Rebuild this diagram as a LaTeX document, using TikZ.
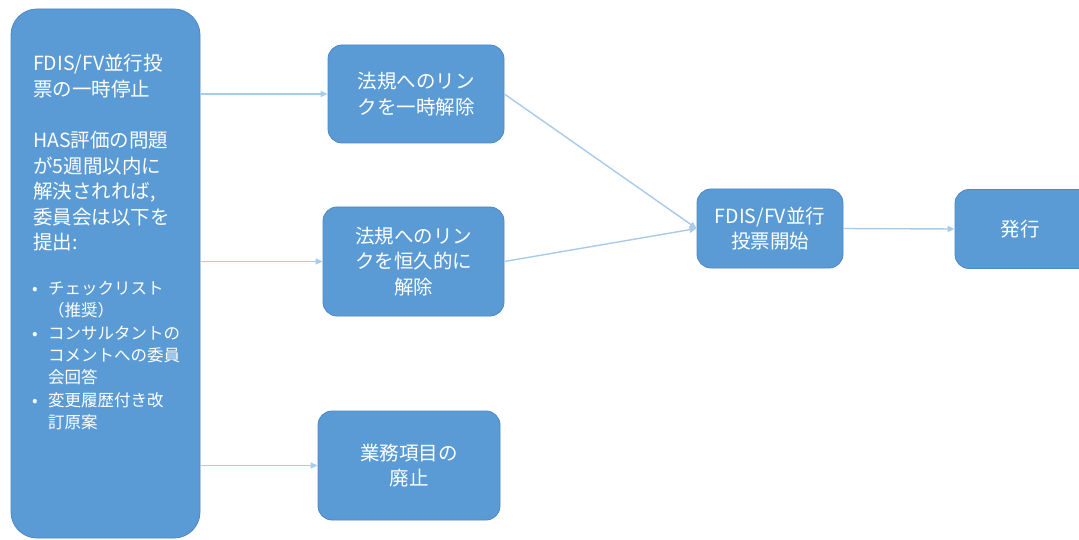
\documentclass[tikz,border=0pt]{standalone}
\usepackage{fontspec}
\setmainfont{Noto Sans CJK JP}
\usetikzlibrary{arrows.meta}
\definecolor{boxblue}{HTML}{5B9BD5}
\definecolor{boxedge}{HTML}{4D88C4}
\definecolor{arrowblue}{HTML}{A9CBEA}
\begin{document}
\begin{tikzpicture}[x=1pt,y=-1pt,
  box/.style={draw=boxedge, line width=0.8pt, fill=boxblue, rounded corners=14pt,
    text=white, align=center, font=\fontsize{19.5}{25.5}\selectfont, inner sep=0pt},
  boxtext/.style={text=white, align=left, inner sep=0pt, anchor=north west},
  arr/.style={draw=arrowblue, line width=1.4pt, -{Triangle[length=7pt,width=6pt]}}]
\clip (0,0) rectangle (1079,540);
\fill[white] (0,0) rectangle (1079,540);
% boxes
\node[box, rounded corners=26pt, minimum width=189pt, minimum height=529pt] (L) at (105.5,273.5) {};
\node[box, minimum width=176pt, minimum height=98pt] (A) at (416,94) {法規へのリン\\クを一時解除};
\node[box, minimum width=181pt, minimum height=109pt] (B) at (413.5,261.5) {法規へのリン\\クを恒久的に\\解除};
\node[box, minimum width=182pt, minimum height=109pt] (C) at (409,465.5) {業務項目の\\廃止};
\node[box, minimum width=146pt, minimum height=79pt] (D) at (770,228.5) {FDIS/FV並行\\投票開始};
\node[box, minimum width=150pt, minimum height=79pt, text width=124pt] (E) at (1030,229) {\hspace*{-20pt}発行};
% left box text
\node[boxtext, font=\fontsize{19.5}{25.5}\selectfont] (Lt) at (33,54)
  {FDIS/FV並行投\\票の一時停止\\[26pt]HAS評価の問題\\が5週間以内に\\解決されれば,\\委員会は以下を\\提出:};
\node[boxtext, font=\fontsize{16.5}{22.3}\selectfont] (Lb) at (32,281)
  {\makebox[16pt][l]{•}チェックリスト\\\hspace*{16pt}（推奨）\\
   \makebox[16pt][l]{•}コンサルタントの\\\hspace*{16pt}コメントへの委員\\\hspace*{16pt}会回答\\
   \makebox[16pt][l]{•}変更履歴付き改\\\hspace*{16pt}訂原案};
% connectors
\draw[arr] (L.east |- A.west) -- (A.west);
\draw[arr] (L.east |- B.west) -- (B.west);
\draw[arr] (L.east |- C.west) -- (C.west);
\draw[arr] (A.east) -- (D.west);
\draw[arr] (B.east) -- (D.west);
\draw[arr] (D.east) -- (E.west);
\end{tikzpicture}
\end{document}
